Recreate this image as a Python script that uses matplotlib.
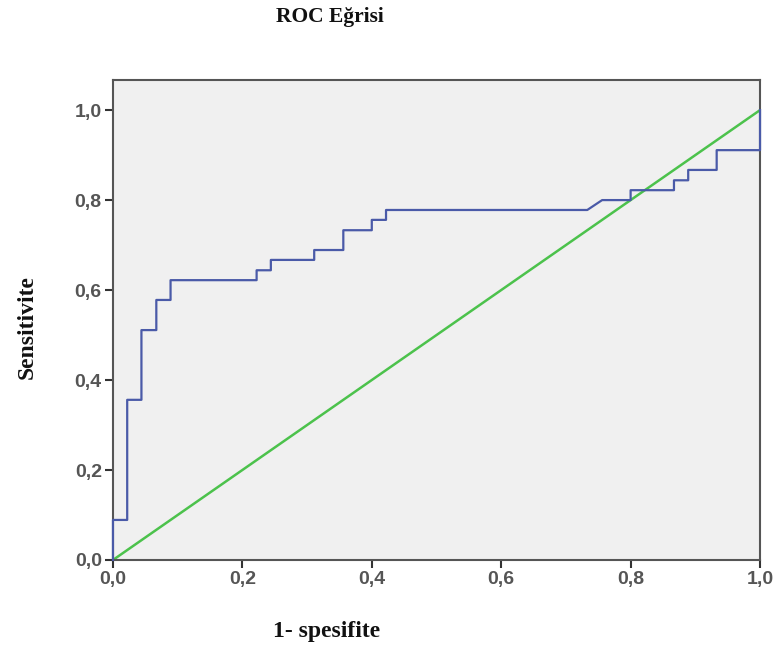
import matplotlib
matplotlib.use("Agg")
import matplotlib.pyplot as plt
from matplotlib.ticker import FuncFormatter

# ROC curve points (1 - specificity, sensitivity)
fpr = [0.0, 0.0, 0.022, 0.022, 0.044, 0.044, 0.067, 0.067, 0.089, 0.089,
       0.222, 0.222, 0.244, 0.244, 0.311, 0.311, 0.356, 0.356, 0.400, 0.400,
       0.422, 0.422, 0.733, 0.756, 0.800, 0.800, 0.867, 0.867, 0.889, 0.889,
       0.933, 0.933, 1.0, 1.0]
tpr = [0.0, 0.089, 0.089, 0.356, 0.356, 0.511, 0.511, 0.578, 0.578, 0.622,
       0.622, 0.644, 0.644, 0.667, 0.667, 0.689, 0.689, 0.733, 0.733, 0.756,
       0.756, 0.778, 0.778, 0.800, 0.800, 0.822, 0.822, 0.844, 0.844, 0.867,
       0.867, 0.911, 0.911, 1.0]
ref_line = [0.0, 1.0]
ticks = [0.0, 0.2, 0.4, 0.6, 0.8, 1.0]

fig = plt.figure(figsize=(7.78, 6.47), dpi=100)
ax = fig.add_axes([0.1452, 0.1345, 0.8317, 0.7419])
ax.set_facecolor("#f0f0f0")

ax.plot(ref_line, ref_line, color="#4cc24c", linewidth=1.8)
ax.plot(fpr, tpr, color="#4a5aa8", linewidth=1.6, clip_on=False, zorder=5)

ax.set_xlim(0, 1.0)
ax.set_ylim(0, 1.067)
ax.set_xticks(ticks)
ax.set_yticks(ticks)
comma = FuncFormatter(lambda v, p: f"{v:.1f}".replace(".", ","))
ax.xaxis.set_major_formatter(comma)
ax.yaxis.set_major_formatter(comma)
ax.tick_params(direction="out", length=6, width=1.5, color="#333333",
               labelsize=14, labelcolor="#555555", pad=2)
for lab in ax.get_xticklabels() + ax.get_yticklabels():
    lab.set_fontfamily("Liberation Sans")
    lab.set_fontweight("bold")
for s in ax.spines.values():
    s.set_color("#555555")
    s.set_linewidth(1.5)

serif = dict(family="Liberation Serif", fontweight="bold", color="#111111")
fig.text(330 / 778, 1 - 17 / 647, "ROC Eğrisi", ha="center", va="center",
         fontsize=15.5, **serif)
fig.text(327 / 778, 1 - 632 / 647, "1- spesifite", ha="center", va="center",
         fontsize=17, **serif)
fig.text(27 / 778, 1 - 327 / 647, "Sensitivite", ha="center", va="center",
         rotation=90, fontsize=17, **serif)

fig.savefig("out.png", dpi=100)
